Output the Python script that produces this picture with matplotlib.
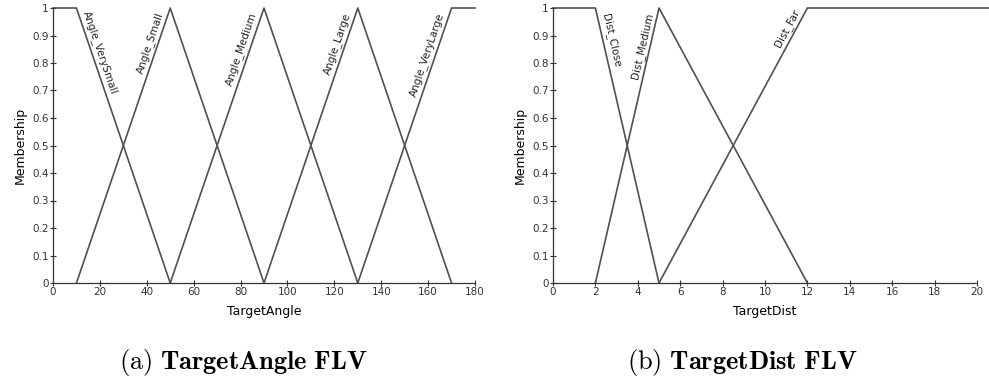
"""Fuzzy linguistic variables: TargetAngle and TargetDist membership sets."""
import numpy as np
import matplotlib
matplotlib.use('Agg')
import matplotlib.pyplot as plt
import matplotlib.transforms as mtrans

plt.rcParams['font.family'] = 'DejaVu Sans'
plt.rcParams['mathtext.fontset'] = 'cm'

# TargetAngle sets (x breakpoints, membership)
angle_names = ['Angle_VerySmall', 'Angle_Small', 'Angle_Medium', 'Angle_Large', 'Angle_VeryLarge']
angle_x = [[0, 10, 50], [10, 50, 90], [50, 90, 130], [90, 130, 170], [130, 170, 180]]
angle_y = [[1, 1, 0], [0, 1, 0], [0, 1, 0], [0, 1, 0], [0, 1, 1]]

# TargetDist sets
dist_names = ['Dist_Close', 'Dist_Medium', 'Dist_Far']
dist_x = [[0, 2, 5], [2, 5, 12], [5, 12, 20.55]]
dist_y = [[1, 1, 0], [0, 1, 0], [0, 1, 1]]

# label anchor: (set index, x on the line, side) ; side 'down' = descending edge
angle_lab = [(0, 10.9, 'down'), (1, 48.9, 'up'), (2, 88.9, 'up'), (3, 128.9, 'up'), (4, 168.9, 'up')]
dist_lab = [(0, 2.08, 'down'), (1, 4.93, 'up'), (2, 11.85, 'up')]

LC = '#505050'
W, H = 989, 381
fig = plt.figure(figsize=(W / 100, H / 100), dpi=100)


def px_axes(x0, x1, y0, y1):
    return fig.add_axes([x0 / W, 1 - y1 / H, (x1 - x0) / W, (y1 - y0) / H])


def style(ax, xmax, xstep, xlabel):
    ax.set_xlim(0, xmax)
    ax.set_ylim(0, 1)
    ax.set_xticks(np.arange(0, xmax + 0.01, xstep))
    ax.set_yticks(np.arange(0, 1.01, 0.1))
    ax.set_yticklabels(['0'] + [f'{v:.1f}' for v in np.arange(0.1, 0.95, 0.1)] + ['1'])
    ax.tick_params(direction='inout', length=4, width=0.8, labelsize=7.5, pad=1, colors='#333333')
    for s in ['top', 'right']:
        ax.spines[s].set_visible(False)
    for s in ['left', 'bottom']:
        ax.spines[s].set_color('#333333')
        ax.spines[s].set_linewidth(0.9)
    ax.set_ylabel('Membership', fontsize=9, labelpad=4)
    ax.set_xlabel(xlabel, fontsize=9, labelpad=6)


def draw(ax, xs, ys, names, labs):
    for x, y in zip(xs, ys):
        ax.plot(x, y, color=LC, lw=1.2, clip_on=False)
    for idx, xv, side in labs:
        x, y = xs[idx], ys[idx]
        if side == 'down':
            p0, p1 = (x[1], 1), (x[2], 0)
        else:
            p0, p1 = (x[0], 0), (x[1], 1)
        a = ax.transData.transform(p0)
        b = ax.transData.transform(p1)
        ang = np.degrees(np.arctan2(b[1] - a[1], b[0] - a[0]))
        yv = p0[1] + (xv - p0[0]) * (p1[1] - p0[1]) / (p1[0] - p0[0])
        ha = 'left' if side == 'down' else 'right'
        # push the text a little away from the line (perpendicular, in points)
        r = np.radians(ang)
        off = 1.8
        tr = ax.transData + mtrans.ScaledTranslation(-np.sin(r) * off / 72, np.cos(r) * off / 72,
                                                      fig.dpi_scale_trans)
        ax.text(xv, yv, names[idx], rotation=ang, rotation_mode='anchor', transform=tr,
                ha=ha, va='bottom', fontsize=7.5, color='#222222')


ax1 = px_axes(53, 475, 8, 283)
style(ax1, 180, 20, 'TargetAngle')
draw(ax1, angle_x, angle_y, angle_names, angle_lab)

ax2 = px_axes(553, 977, 8, 283)
style(ax2, 20, 2, 'TargetDist')
draw(ax2, dist_x, dist_y, dist_names, dist_lab)

fig.text(243 / W, 1 - 363 / H, r'$\mathrm{(a)}\ \mathbf{TargetAngle\ FLV}$',
         ha='center', va='center', fontsize=19)
fig.text(742 / W, 1 - 363 / H, r'$\mathrm{(b)}\ \mathbf{TargetDist\ FLV}$',
         ha='center', va='center', fontsize=19)

fig.savefig('out.png', dpi=100)
